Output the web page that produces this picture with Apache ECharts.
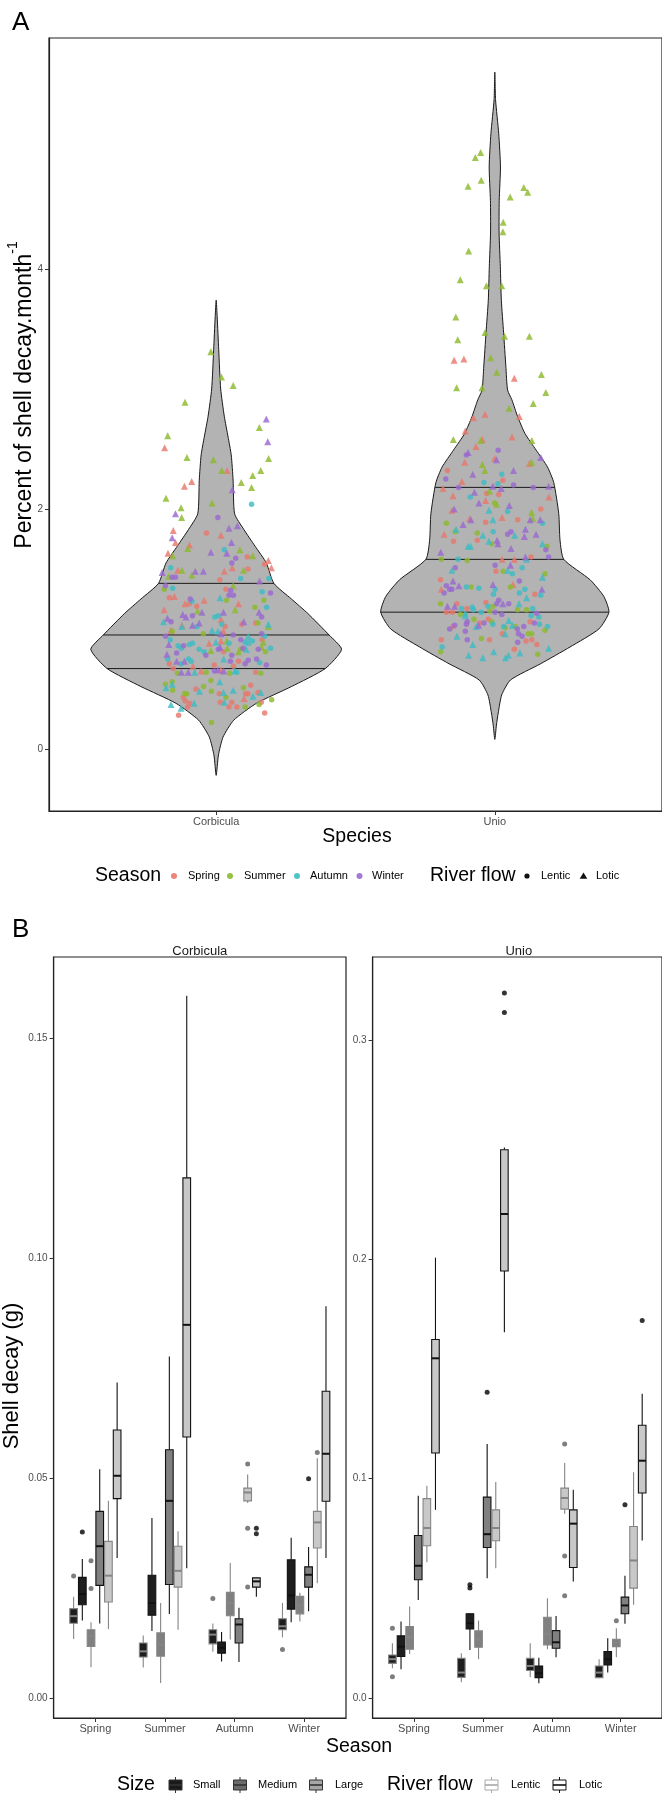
<!DOCTYPE html>
<html><head><meta charset="utf-8">
<script src="https://cdn.jsdelivr.net/npm/echarts@6/dist/echarts.min.js"></script>
<style>html,body{margin:0;padding:0;background:#fff}#c{width:662px;height:1793px}</style>
</head><body><div id="c"></div>
<script>
// ---------------- DATA ----------------
const species = ['Corbicula', 'Unio'];
const seasons = ['Spring', 'Summer', 'Autumn', 'Winter'];
const sizes = ['Small', 'Medium', 'Large'];
const flows = ['Lentic', 'Lotic'];
const ticksA = [0, 2, 4];
const ticksCorb = [0, 0.05, 0.10, 0.15];
const ticksUnio = [0, 0.1, 0.2, 0.3];

// violin outlines: value and relative density (1 = widest violin)
const corbViolinV = [3.74,3.6,3.33,3.0,2.77,2.6,2.45,2.24,1.96,1.83,1.69,1.55,1.38,1.25,1.13,0.95,0.83,0.67,0.52,0.38,0.24,0.1,-0.05,-0.22];
const corbViolinD = [0,0.008,0.02,0.036,0.065,0.095,0.12,0.135,0.147,0.22,0.31,0.40,0.46,0.6,0.73,0.9,1.0,0.87,0.6,0.32,0.14,0.055,0.018,0];
const unioViolinV = [5.64,5.41,5.13,4.85,4.57,4.3,4.02,3.74,3.47,3.19,2.99,2.91,2.77,2.63,2.49,2.35,2.22,1.96,1.74,1.58,1.41,1.27,1.14,1.0,0.85,0.71,0.575,0.45,0.3,0.2,0.08];
const unioViolinD = [0,0.006,0.031,0.045,0.035,0.034,0.044,0.052,0.07,0.088,0.102,0.136,0.182,0.24,0.33,0.42,0.47,0.51,0.52,0.55,0.76,0.87,0.91,0.83,0.60,0.365,0.125,0.055,0.027,0.013,0];
const corbQuantiles = [0.67, 0.95, 1.38];
const unioQuantiles = [1.14, 1.58, 2.18];

// jittered points: [x jitter, percent decay, season index, flow index]
const corbPoints = [
[-0.019,3.31,1,1],[0.019,3.10,1,1],[0.061,3.03,1,1],[-0.112,2.89,1,1],[0.180,2.75,3,1],[0.155,2.68,1,1],[-0.174,2.61,1,1],[-0.185,2.51,0,1],[0.185,2.56,3,1],[-0.105,2.43,1,1],[-0.010,2.41,1,1],[0.188,2.42,1,1],[0.020,2.32,1,1],[0.039,2.32,0,1],[0.160,2.32,1,1],[0.131,2.28,1,1],[-0.088,2.23,0,1],[-0.114,2.19,0,1],[0.090,2.22,1,1],[0.127,2.18,1,1],[0.058,2.16,3,1],[-0.180,2.09,1,1],
[-0.126,2.01,1,1],[-0.146,1.96,3,1],[-0.124,1.93,1,1],[-0.015,2.05,1,1],[0.127,2.04,2,0],[0.006,1.93,3,0],[-0.154,1.82,0,1],[-0.035,1.80,0,0],[0.017,1.78,0,1],[0.046,1.84,3,1],[0.076,1.86,3,1],[-0.158,1.76,3,1],[-0.146,1.72,0,1],[0.055,1.72,3,1],[-0.102,1.67,1,1],[-0.096,1.70,0,1],[-0.173,1.63,0,1],[-0.156,1.61,1,1],[-0.019,1.64,3,1],[0.029,1.66,2,0],[0.038,1.63,3,1],[0.085,1.66,1,1],[0.131,1.61,1,1],[0.112,1.60,0,0],[0.070,1.59,3,0],[0.187,1.57,0,1],[0.198,1.51,0,1],[0.174,1.54,0,0],[0.056,1.55,3,0],[-0.163,1.51,2,0],[-0.138,1.49,0,1],[-0.123,1.49,1,1],[-0.075,1.48,3,1],[-0.046,1.48,3,1],[0.029,1.48,0,1],[0.058,1.51,0,1],[0.098,1.49,1,1],[0.114,1.50,0,0],[-0.194,1.47,3,1],[-0.170,1.44,1,1],[-0.158,1.43,3,0],[-0.146,1.43,3,0],[-0.087,1.45,1,1],[0.013,1.41,0,0],[0.088,1.42,2,0],[0.156,1.40,3,1],[0.189,1.42,2,0],[-0.182,1.36,3,0],[-0.156,1.34,2,0],[-0.186,1.33,1,0],[0.035,1.33,0,0],[0.061,1.36,1,1],[0.052,1.32,3,0],[0.046,1.28,3,0],[0.062,1.28,3,0],[-0.168,1.26,0,0],[-0.150,1.27,0,1],[-0.093,1.25,3,0],[-0.087,1.23,2,0],[-0.043,1.24,0,1],[0.014,1.26,2,1],[0.037,1.24,1,0],[0.165,1.31,2,0],[0.195,1.30,3,0],[-0.187,1.16,0,1],[-0.112,1.21,0,1],[-0.096,1.21,0,0],[-0.070,1.19,0,0],[-0.067,1.15,1,1],[-0.051,1.14,3,1],[0.080,1.21,0,1],[0.068,1.16,1,1],[0.139,1.18,1,0],[0.181,1.18,2,0],[0.154,1.14,3,1],[0.171,1.24,1,0],[-0.189,1.06,2,1],[-0.175,1.09,3,1],[-0.162,1.06,3,0],[-0.120,1.12,3,1],[-0.108,1.10,3,1],[-0.085,1.11,3,0],[-0.123,1.03,0,1],[-0.085,1.03,3,1],[-0.061,1.05,3,1],[-0.069,1.02,2,0],[-0.005,1.10,2,0],[0.017,1.08,0,1],[0.026,1.14,3,1],[0.008,1.11,2,0],[0.020,1.04,2,0],[0.032,1.02,0,0],[0.092,1.04,0,0],[0.099,1.06,3,1],[0.142,1.05,0,0],[0.150,1.05,1,0],[0.163,1.10,3,0],[0.187,1.04,2,1],[0.187,1.02,1,1],[-0.182,0.94,3,0],[-0.158,0.98,1,0],[-0.162,0.99,0,1],[-0.123,1.02,2,1],[-0.046,0.96,1,0],[-0.015,0.99,2,1],[0.006,0.98,2,1],[0.017,0.96,3,1],[0.026,0.98,0,1],[0.061,0.95,3,0],[0.115,0.94,2,1],[0.163,0.96,3,0],[0.174,0.94,2,0],[-0.170,0.87,3,1],[-0.165,0.91,2,0],[-0.137,0.86,2,0],[-0.117,0.86,3,0],[-0.096,0.87,2,0],[-0.085,0.88,2,0],[-0.025,0.88,0,1],[-0.001,0.89,2,1],[0.017,0.90,0,1],[0.038,0.90,1,1],[0.046,0.88,2,0],[0.088,0.91,3,0],[0.104,0.89,2,0],[0.115,0.89,2,1],[0.130,0.90,2,0],[0.165,0.91,0,0],[0.169,0.89,1,1],[0.195,0.84,2,0],[-0.177,0.79,3,1],[-0.142,0.80,3,0],[-0.125,0.84,2,0],[-0.061,0.83,2,0],[-0.043,0.81,2,0],[-0.037,0.78,3,0],[-0.019,0.82,1,1],[0.008,0.83,3,0],[0.026,0.81,0,0],[0.014,0.85,3,1],[0.040,0.84,1,1],[0.056,0.78,3,0],[0.080,0.81,1,1],[0.088,0.83,1,0],[0.096,0.84,3,0],[0.108,0.83,2,1],[0.151,0.83,3,0],[0.163,0.85,1,1],[0.177,0.81,1,0],[-0.174,0.75,2,0],[-0.142,0.73,3,1],[-0.126,0.71,2,0],[-0.114,0.73,3,1],[-0.099,0.75,2,0],[-0.090,0.73,2,0],[-0.083,0.69,0,1],[-0.168,0.71,0,0],[-0.154,0.67,0,0],[-0.007,0.70,0,0],[0.027,0.75,2,1],[0.051,0.73,3,0],[0.062,0.69,0,0],[0.080,0.73,0,0],[0.104,0.71,3,0],[0.115,0.74,3,0],[0.145,0.75,3,0],[0.156,0.72,2,0],[0.180,0.70,3,0],[-0.139,0.63,1,0],[-0.125,0.64,3,1],[-0.100,0.64,3,1],[-0.077,0.64,2,1],[-0.054,0.65,0,1],[-0.036,0.64,1,0],[-0.006,0.65,3,0],[0.006,0.66,3,1],[0.017,0.66,0,1],[0.027,0.65,3,1],[0.049,0.63,1,0],[0.067,0.65,2,1],[0.074,0.64,2,0],[0.142,0.64,0,0],[0.160,0.63,1,0],[-0.158,0.56,1,0],[-0.182,0.54,1,0],[-0.158,0.54,2,1],[-0.180,0.51,2,1],[-0.156,0.49,1,0],[-0.106,0.46,1,0],[-0.113,0.46,1,0],[-0.073,0.50,0,0],[-0.060,0.48,2,1],[-0.045,0.52,1,0],[-0.019,0.57,1,0],[0.013,0.56,2,1],[-0.017,0.48,1,0],[0.011,0.46,0,0],[0.026,0.47,2,1],[0.035,0.43,1,0],[0.061,0.49,2,1],[0.098,0.51,1,0],[0.106,0.46,0,0],[0.124,0.53,0,0],[0.114,0.46,0,0],[0.132,0.44,2,1],[0.150,0.47,0,0],[0.160,0.47,2,1],[-0.118,0.43,0,0],[-0.111,0.40,0,0],[-0.095,0.38,0,0],[-0.102,0.35,0,0],[-0.079,0.38,2,1],[-0.162,0.37,2,1],[-0.126,0.34,2,1],[0.015,0.39,0,0],[0.029,0.39,2,1],[0.056,0.39,0,0],[0.100,0.42,0,1],[0.104,0.35,1,0],[0.154,0.37,1,0],[0.162,0.39,0,0],[0.199,0.41,1,0],[0.074,0.35,0,0],[0.046,0.35,0,0],[-0.135,0.28,0,0],[-0.017,0.22,1,0],[0.174,0.30,0,0]
];
const unioPoints = [
[-0.051,4.97,1,1],[-0.070,4.93,1,1],[-0.049,4.74,1,1],[-0.096,4.69,1,1],[0.104,4.68,1,1],[0.118,4.64,1,1],[0.055,4.60,1,1],[0.030,4.39,1,1],[0.029,4.31,1,1],[-0.094,4.15,1,1],[-0.124,3.91,1,1],[-0.030,3.86,1,1],[0.025,3.86,1,1],[-0.140,3.60,1,1],[-0.035,3.47,1,1],[0.035,3.44,1,1],[0.124,3.44,1,1],[-0.133,3.41,1,1],[-0.146,3.24,0,1],[-0.111,3.25,0,1],[-0.015,3.26,1,1],[0.007,3.14,1,1],[0.070,3.09,0,1],[0.167,3.12,1,1],[-0.137,3.01,1,1],[-0.046,3.01,1,1],[0.183,2.97,1,1],[0.138,2.88,1,1],[0.051,2.84,1,1],[-0.035,2.79,0,1],[-0.077,2.76,0,1],[0.088,2.77,0,1],[-0.106,2.65,0,1],[-0.149,2.58,1,1],[-0.045,2.58,0,1],[-0.051,2.57,1,1],[0.062,2.60,0,1],[0.133,2.57,1,1],[-0.068,2.52,0,1],[-0.096,2.47,3,1],[-0.102,2.45,3,0],[0.012,2.49,3,0],[0.165,2.43,3,1],[-0.108,2.39,0,1],[-0.001,2.42,0,1],[0.006,2.41,3,1],[-0.045,2.37,1,1],[-0.036,2.32,1,1],[0.124,2.38,0,1],[0.132,2.39,1,1],[-0.170,2.32,0,0],[-0.176,2.25,3,0],[-0.079,2.29,3,1],[0.067,2.32,3,1],[0.025,2.29,2,0],[-0.039,2.22,2,0],[0.029,2.24,0,0],[-0.118,2.23,0,1],[-0.186,2.17,0,1],[-0.130,2.18,3,0],[-0.007,2.19,3,1],[0.011,2.21,2,0],[0.023,2.17,3,1],[0.067,2.20,3,0],[0.138,2.18,3,0],[0.193,2.19,3,1],[-0.073,2.14,3,1],[-0.019,2.15,1,1],[-0.150,2.11,0,1],[-0.088,2.10,2,0],[-0.029,2.13,0,0],[0.014,2.12,0,0],[0.194,2.10,0,1],
[-0.154,1.99,0,1],[-0.146,2.00,3,1],[-0.057,2.05,3,1],[-0.033,2.07,0,1],[-0.001,2.05,1,0],[0.007,2.04,1,1],[0.052,2.03,3,1],[-0.021,1.99,2,1],[0.046,1.98,2,0],[0.165,2.00,0,0],[0.132,1.97,1,1],[0.136,1.92,1,1],[0.127,1.91,3,1],[0.163,1.91,3,1],[0.171,1.88,2,0],[-0.174,1.88,1,0],[-0.114,1.87,3,1],[-0.139,1.83,2,1],[-0.142,1.81,1,0],[-0.090,1.92,0,1],[-0.086,1.91,3,1],[-0.033,1.89,0,0],[-0.007,1.91,2,1],[0.026,1.93,0,1],[0.082,1.91,0,0],[-0.182,1.79,0,1],[-0.148,1.73,0,0],[-0.063,1.80,1,0],[-0.063,1.74,0,0],[-0.043,1.78,2,1],[-0.006,1.81,2,0],[-0.021,1.73,2,1],[-0.011,1.71,1,0],[0.008,1.74,3,1],[0.011,1.71,3,1],[0.046,1.79,3,0],[0.058,1.81,3,0],[0.071,1.78,2,1],[0.110,1.83,3,1],[0.106,1.77,3,1],[0.148,1.79,3,1],[0.171,1.71,2,1],[0.187,1.69,1,0],[0.183,1.66,3,0],[0.193,1.60,3,0],[-0.194,1.64,3,1],[-0.192,1.58,1,0],[-0.132,1.58,2,0],[-0.099,1.57,1,0],[-0.096,1.69,2,1],[-0.087,1.69,2,1],[0.026,1.58,0,1],[0.070,1.58,0,1],[0.058,1.67,3,1],[0.110,1.60,3,1],[0.130,1.60,0,0],[0.114,1.58,2,1],[0.001,1.53,3,0],[-0.154,1.49,2,1],[-0.142,1.51,3,0],[0.004,1.48,0,0],[0.030,1.48,1,0],[0.046,1.49,2,1],[0.056,1.53,3,1],[0.063,1.46,2,0],[0.098,1.51,2,0],[0.180,1.46,1,0],[0.171,1.43,2,1],[-0.195,1.41,0,0],[-0.150,1.40,3,1],[-0.192,1.33,0,1],[-0.174,1.36,3,0],[-0.162,1.33,3,0],[-0.154,1.33,3,0],[-0.182,1.30,3,0],[-0.129,1.36,3,1],[-0.102,1.35,2,0],[-0.085,1.35,1,0],[-0.057,1.34,2,0],[-0.007,1.37,3,1],[0.001,1.33,2,0],[-0.005,1.29,2,0],[0.056,1.35,1,0],[0.065,1.37,0,1],[0.088,1.40,3,0],[0.088,1.30,2,0],[0.108,1.33,2,0],[0.114,1.26,2,1],[0.144,1.29,0,0],[0.165,1.28,2,0],[0.169,1.33,3,1],[-0.195,1.21,1,0],[-0.170,1.19,3,1],[-0.144,1.19,3,1],[-0.136,1.21,0,0],[-0.120,1.17,2,0],[-0.100,1.17,0,0],[-0.081,1.18,2,0],[-0.174,1.14,0,0],[-0.152,1.14,0,0],[-0.106,1.13,2,1],[-0.077,1.16,2,0],[-0.049,1.14,2,0],[-0.032,1.22,0,0],[-0.025,1.19,2,0],[-0.007,1.19,1,0],[-0.018,1.15,1,0],[0.007,1.21,3,0],[0.014,1.24,3,0],[0.029,1.21,3,1],[0.050,1.21,3,0],[0.001,1.14,3,0],[0.025,1.12,3,0],[0.087,1.21,2,1],[0.082,1.16,1,0],[0.114,1.16,1,0],[0.136,1.17,2,0],[0.150,1.13,3,0],[0.130,1.11,2,0],[0.158,1.10,2,0],[-0.123,1.12,1,0],[-0.106,1.11,2,1],[-0.075,1.08,1,0],[-0.055,1.05,0,0],[-0.039,1.05,3,0],[-0.023,1.08,0,0],[-0.011,1.06,1,0],[-0.007,1.04,2,0],[-0.102,1.04,3,0],[-0.099,1.06,3,0],[-0.144,1.03,3,0],[-0.162,1.00,3,0],[-0.150,1.02,0,0],[-0.067,1.02,2,1],[-0.058,1.03,3,1],[0.032,1.02,2,0],[0.037,1.01,1,0],[0.050,1.07,2,1],[0.063,1.03,2,1],[0.074,1.02,1,0],[0.081,1.00,3,0],[0.104,1.02,3,0],[0.127,1.06,0,0],[0.142,1.05,3,0],[0.160,1.04,2,0],[0.189,1.02,2,0],[0.180,0.99,1,0],[-0.136,0.94,2,1],[-0.106,0.98,3,0],[-0.099,0.91,3,0],[-0.048,0.92,1,0],[-0.019,0.91,0,0],[0.027,0.96,0,0],[0.037,0.96,2,1],[0.085,0.96,3,0],[0.098,0.94,3,0],[0.120,0.96,1,0],[0.132,0.96,1,0],[-0.192,0.91,0,0],[-0.189,0.85,2,0],[-0.194,0.81,1,0],[-0.079,0.87,2,1],[0.082,0.89,3,0],[0.112,0.90,0,0],[0.133,0.91,0,0],[0.151,0.87,0,0],[0.070,0.83,0,0],[0.090,0.80,2,1],[-0.004,0.81,2,1],[-0.094,0.78,2,1],[-0.043,0.76,2,1],[0.038,0.76,2,1],[0.049,0.78,2,1],[0.154,0.79,1,0],[0.193,0.84,2,1]
];

// boxplots: [season, size, flow, lower whisker, Q1, median, Q3, upper whisker]  (g)
const corbBoxes = [
[0,0,0,0.0134,0.0170,0.0186,0.0203,0.0230],[0,0,1,0.0176,0.0212,0.0236,0.0274,0.0316],
[0,1,0,0.0070,0.0117,0.0140,0.0155,0.0172],[0,1,1,0.0169,0.0256,0.0345,0.0424,0.0520],
[0,2,0,0.0157,0.0218,0.0278,0.0356,0.0448],[0,2,1,0.0318,0.0453,0.0505,0.0609,0.0717],
[1,0,0,0.0069,0.0093,0.0106,0.0125,0.0142],[1,0,1,0.0152,0.0188,0.0216,0.0279,0.0409],
[1,1,0,0.0034,0.0095,0.0121,0.0148,0.0216],[1,1,1,0.0191,0.0258,0.0448,0.0564,0.0776],
[1,2,0,0.0155,0.0252,0.0289,0.0345,0.0379],[1,2,1,0.0295,0.0593,0.0848,0.1182,0.1596],
[2,0,0,0.0105,0.0123,0.0144,0.0155,0.0169],[2,0,1,0.0083,0.0102,0.0114,0.0127,0.0150],
[2,1,0,0.0133,0.0187,0.0216,0.0240,0.0307],[2,1,1,0.0082,0.0125,0.0167,0.0180,0.0205],
[2,2,0,0.0443,0.0448,0.0467,0.0477,0.0508],[2,2,1,0.0230,0.0252,0.0265,0.0273,0.0274],
[3,0,0,0.0138,0.0155,0.0163,0.0180,0.0216],[3,0,1,0.0172,0.0202,0.0233,0.0314,0.0364],
[3,1,0,0.0174,0.0191,0.0210,0.0231,0.0239],[3,1,1,0.0197,0.0252,0.0280,0.0298,0.0343],
[3,2,0,0.0261,0.0341,0.0399,0.0424,0.0545],[3,2,1,0.0318,0.0447,0.0555,0.0697,0.0890]
];
const corbOutliers = [[0,0,0,0.0277],[0,0,1,0.0377],[0,1,0,0.0312],[0,1,0,0.0249],[2,0,0,0.0226],[2,2,0,0.0532],[2,2,0,0.0386],[2,2,0,0.0252],[2,2,1,0.0386],[2,2,1,0.0373],[3,0,0,0.0110],[3,1,1,0.0498],[3,2,0,0.0558]];
const unioBoxes = [
[0,0,0,0.0135,0.0158,0.0177,0.0196,0.0250],[0,0,1,0.0131,0.0189,0.0234,0.0283,0.0349],
[0,1,0,0.0201,0.0222,0.0277,0.0326,0.0417],[0,1,1,0.0447,0.0539,0.0603,0.0741,0.0922],
[0,2,0,0.0619,0.0694,0.0775,0.0909,0.0968],[0,2,1,0.0858,0.1117,0.1549,0.1635,0.2008],
[1,0,0,0.0072,0.0094,0.0116,0.0181,0.0204],[1,0,1,0.0219,0.0315,0.0341,0.0384,0.0387],
[1,1,0,0.0177,0.0231,0.0265,0.0306,0.0353],[1,1,1,0.0546,0.0686,0.0747,0.0916,0.1158],
[1,2,0,0.0592,0.0717,0.0775,0.0858,0.0985],[1,2,1,0.1668,0.1947,0.2207,0.2500,0.2510],
[2,0,0,0.0094,0.0125,0.0146,0.0181,0.0250],[2,0,1,0.0067,0.0093,0.0113,0.0146,0.0184],
[2,1,0,0.0222,0.0242,0.0291,0.0368,0.0455],[2,1,1,0.0186,0.0227,0.0254,0.0307,0.0374],
[2,2,0,0.0840,0.0861,0.0912,0.0957,0.1072],[2,2,1,0.0531,0.0595,0.0795,0.0858,0.0950],
[3,0,0,0.0090,0.0093,0.0116,0.0146,0.0177],[3,0,1,0.0116,0.0151,0.0177,0.0212,0.0272],
[3,1,0,0.0186,0.0234,0.0253,0.0268,0.0318],[3,1,1,0.0338,0.0384,0.0422,0.0460,0.0557],
[3,2,0,0.0425,0.0501,0.0627,0.0782,0.1029],[3,2,1,0.0718,0.0935,0.1082,0.1244,0.1387]
];
const unioOutliers = [[0,0,0,0.0318],[0,0,0,0.0097],[1,0,1,0.0516],[1,0,1,0.0501],[1,1,1,0.1394],[1,2,1,0.3126],[1,2,1,0.3215],[2,2,0,0.1158],[2,2,0,0.0648],[2,2,0,0.0466],[3,1,0,0.0352],[3,1,1,0.0881],[3,2,1,0.1721]];

// ---------------- STYLE ----------------
const FONT = '"Liberation Sans", Arial, Helvetica, sans-serif';
const seasonColors = ['#E8796D', '#8DB92E', '#3DBCC3', '#9A6AD0'];
const sizeFill = ['#1e1e1e', '#808080', '#c8c8c8'];
const flowStroke = ['#858585', '#111111'];
const outlierColor = ['#5e5e5e', '#000000'];
const VIOLIN_W = 0.45, SLOT = 0.125, BOX_HW = 0.055;

const chart = echarts.init(document.getElementById('c'), null, {renderer: 'canvas'});

function interpWidth(vArr, dArr, q) {
  for (let k = 0; k < vArr.length - 1; k++) {
    const a = vArr[k], b = vArr[k + 1];
    if ((q <= a && q >= b)) { const t = (a - q) / (a - b); return dArr[k] + t * (dArr[k + 1] - dArr[k]); }
  }
  return 0;
}
const violins = [
  {v: corbViolinV, d: corbViolinD, q: corbQuantiles},
  {v: unioViolinV, d: unioViolinD, q: unioQuantiles}
];

function xAxisDef(gi, min, max, vals, names, margin) {
  return {gridIndex: gi, type: 'value', min: min, max: max, splitLine: {show: false},
    axisLine: {show: true, onZero: false, lineStyle: {color: '#222', width: 1.2}},
    axisTick: {show: true, customValues: vals, length: 4, lineStyle: {color: '#333', width: 1}},
    axisLabel: {customValues: vals, formatter: v => names[Math.round(v) - 1], fontSize: 11, color: '#4d4d4d', margin: margin, fontFamily: FONT}};
}
function yAxisDef(gi, min, max, vals, digits) {
  return {gridIndex: gi, type: 'value', min: min, max: max, splitLine: {show: false},
    axisLine: {show: true, onZero: false, lineStyle: {color: '#222', width: 1.2}},
    axisTick: {show: true, customValues: vals, length: 4, lineStyle: {color: '#333', width: 1}},
    axisLabel: {customValues: vals, formatter: v => v.toFixed(digits), fontSize: 10, color: '#4d4d4d', margin: 6, fontFamily: FONT}};
}

const series = [];
series.push({
  type: 'custom', xAxisIndex: 0, yAxisIndex: 0, silent: true, z: 2,
  data: species.map((s, i) => [i + 1, 0]),
  renderItem: function (params, api) {
    const vi = violins[params.dataIndex];
    const xc = params.dataIndex + 1;
    const right = vi.v.map((v, k) => api.coord([xc + vi.d[k] * VIOLIN_W, v]));
    const left = [];
    for (let k = vi.v.length - 2; k >= 1; k--) left.push(api.coord([xc - vi.d[k] * VIOLIN_W, vi.v[k]]));
    const children = [{type: 'polygon', shape: {points: right.concat(left), smooth: 0.2},
      style: {fill: '#b3b3b3', stroke: '#1a1a1a', lineWidth: 1}}];
    vi.q.forEach(q => {
      const w = interpWidth(vi.v, vi.d, q) * VIOLIN_W;
      const p1 = api.coord([xc - w, q]), p2 = api.coord([xc + w, q]);
      children.push({type: 'line', shape: {x1: p1[0], y1: p1[1], x2: p2[0], y2: p2[1]}, style: {stroke: '#1a1a1a', lineWidth: 1}});
    });
    return {type: 'group', children: children};
  }
});
seasons.forEach((sn, si) => {
  const data = [];
  [corbPoints, unioPoints].forEach((arr, sp) => {
    arr.forEach(p => {
      if (p[2] === si) data.push({value: [sp + 1 + p[0], p[1]], symbol: p[3] === 0 ? 'circle' : 'triangle', symbolSize: p[3] === 0 ? 5.5 : 7});
    });
  });
  series.push({type: 'scatter', name: sn, xAxisIndex: 0, yAxisIndex: 0, z: 3, silent: true, data: data,
    itemStyle: {color: seasonColors[si], opacity: 0.82}});
});
function boxSeries(arr, ax) {
  return {type: 'custom', xAxisIndex: ax, yAxisIndex: ax, silent: true, z: 2,
    data: arr.map(b => [b[0] + 1 + (b[1] * 2 + b[2] - 2.5) * SLOT, b[5]]),
    renderItem: function (params, api) {
      const b = arr[params.dataIndex];
      const xc = b[0] + 1 + (b[1] * 2 + b[2] - 2.5) * SLOT;
      const st = flowStroke[b[2]];
      const pwb = api.coord([xc, b[3]]), pq1 = api.coord([xc, b[4]]), pq3 = api.coord([xc, b[6]]), pwt = api.coord([xc, b[7]]);
      const pl = api.coord([xc - BOX_HW, b[5]]), pr = api.coord([xc + BOX_HW, b[5]]);
      const ls = {stroke: st, lineWidth: 1.1};
      return {type: 'group', children: [
        {type: 'line', shape: {x1: pq3[0], y1: pq3[1], x2: pwt[0], y2: pwt[1]}, style: ls},
        {type: 'line', shape: {x1: pq1[0], y1: pq1[1], x2: pwb[0], y2: pwb[1]}, style: ls},
        {type: 'rect', shape: {x: pl[0], y: pq3[1], width: pr[0] - pl[0], height: pq1[1] - pq3[1]}, style: {fill: sizeFill[b[1]], stroke: st, lineWidth: 1.1}},
        {type: 'line', shape: {x1: pl[0], y1: pl[1], x2: pr[0], y2: pr[1]}, style: {stroke: st, lineWidth: 2}}
      ]};
    }};
}
series.push(boxSeries(corbBoxes, 1));
series.push(boxSeries(unioBoxes, 2));
[[corbOutliers, 1], [unioOutliers, 2]].forEach(([arr, ax]) => {
  [0, 1].forEach(fl => {
    series.push({type: 'scatter', xAxisIndex: ax, yAxisIndex: ax, z: 4, silent: true, symbolSize: 5,
      itemStyle: {color: outlierColor[fl]},
      data: arr.filter(o => o[2] === fl).map(o => [o[0] + 1 + (o[1] * 2 + o[2] - 2.5) * SLOT, o[3]])});
  });
});

// ---------------- TEXT & LEGENDS ----------------
const g = [];
function txt(x, y, text, size, opts, rot) {
  const el = {type: 'text', x: x, y: y, silent: true, z: 10,
    style: Object.assign({text: text, fontSize: size, fontFamily: FONT, fill: '#000', align: 'left', verticalAlign: 'middle'}, opts || {})};
  if (rot) el.rotation = rot;
  g.push(el);
}
txt(12, 23, 'A', 26);
txt(12, 930, 'B', 26);
txt(357, 837, 'Species', 19.5, {align: 'center'});
txt(359, 1747, 'Season', 19.5, {align: 'center'});
txt(21, 395, '{a|Percent of shell decay.month}{b|-1}', 23, {align: 'center',
  rich: {a: {fontSize: 23, fontFamily: FONT, lineHeight: 30, verticalAlign: 'bottom'}, b: {fontSize: 14, fontFamily: FONT, lineHeight: 30, verticalAlign: 'top'}}}, Math.PI / 2);
txt(12, 1376, 'Shell decay (g)', 22, {align: 'center'}, Math.PI / 2);
txt(199.8, 951, 'Corbicula', 13, {align: 'center', fill: '#1a1a1a'});
txt(518.8, 951, 'Unio', 13, {align: 'center', fill: '#1a1a1a'});

// legend A
const LA = 876;
txt(95, LA, 'Season', 19.5);
const sx = [174, 230, 297, 359.5], stx = [188, 244, 310, 372];
seasons.forEach((s, i) => {
  g.push({type: 'circle', silent: true, shape: {cx: sx[i], cy: LA, r: 3}, style: {fill: seasonColors[i], opacity: 0.9}});
  txt(stx[i], LA, s, 11);
});
txt(430, LA, 'River flow', 19.5);
g.push({type: 'circle', silent: true, shape: {cx: 527, cy: LA, r: 2.6}, style: {fill: '#111'}});
txt(541, LA, 'Lentic', 11);
g.push({type: 'polygon', silent: true, shape: {points: [[583.5, LA - 3.6], [587.3, LA + 2.8], [579.7, LA + 2.8]]}, style: {fill: '#111'}});
txt(596, LA, 'Lotic', 11);

// legend B
const LB = 1785;
function keyGlyph(cx, fill, stroke) {
  g.push({type: 'line', silent: true, shape: {x1: cx, y1: LB - 8, x2: cx, y2: LB + 8}, style: {stroke: stroke, lineWidth: 1}});
  g.push({type: 'rect', silent: true, shape: {x: cx - 6.5, y: LB - 5, width: 13, height: 10}, style: {fill: fill, stroke: stroke, lineWidth: 1}});
  g.push({type: 'line', silent: true, shape: {x1: cx - 6.5, y1: LB, x2: cx + 6.5, y2: LB}, style: {stroke: stroke, lineWidth: 1.6}});
}
txt(117, LB, 'Size', 19.5);
const kx = [175.5, 240, 316], ktx = [193, 258, 335], keyFill = ['#1a1a1a', '#6b6b6b', '#a6a6a6'];
sizes.forEach((s, i) => { keyGlyph(kx[i], keyFill[i], '#333'); txt(ktx[i], LB, s, 11); });
txt(387, LB, 'River flow', 19.5);
keyGlyph(491.5, '#fff', '#a8a8a8'); txt(511, LB, 'Lentic', 11);
keyGlyph(559.5, '#fff', '#111'); txt(579, LB, 'Lotic', 11);

const option = {
  animation: false,
  backgroundColor: '#fff',
  textStyle: {fontFamily: FONT},
  grid: [
    {left: 49, top: 38, width: 616, height: 773, show: true, borderColor: '#222', borderWidth: 1.2, backgroundColor: 'transparent'},
    {left: 53.6, top: 957, width: 292.4, height: 761, show: true, borderColor: '#222', borderWidth: 1.2, backgroundColor: 'transparent'},
    {left: 372.6, top: 957, width: 292.4, height: 761, show: true, borderColor: '#222', borderWidth: 1.2, backgroundColor: 'transparent'}
  ],
  xAxis: [
    xAxisDef(0, 0.4, 2.6, [1, 2], species, 5),
    xAxisDef(1, 0.4, 4.6, [1, 2, 3, 4], seasons, 5),
    xAxisDef(2, 0.4, 4.6, [1, 2, 3, 4], seasons, 5)
  ],
  yAxis: [
    yAxisDef(0, -0.517, 5.925, ticksA, 0),
    yAxisDef(1, -0.00455, 0.1684, ticksCorb, 2),
    yAxisDef(2, -0.00913, 0.3379, ticksUnio, 1)
  ],
  series: series,
  graphic: g
};
chart.setOption(option);
</script>
</body></html>
